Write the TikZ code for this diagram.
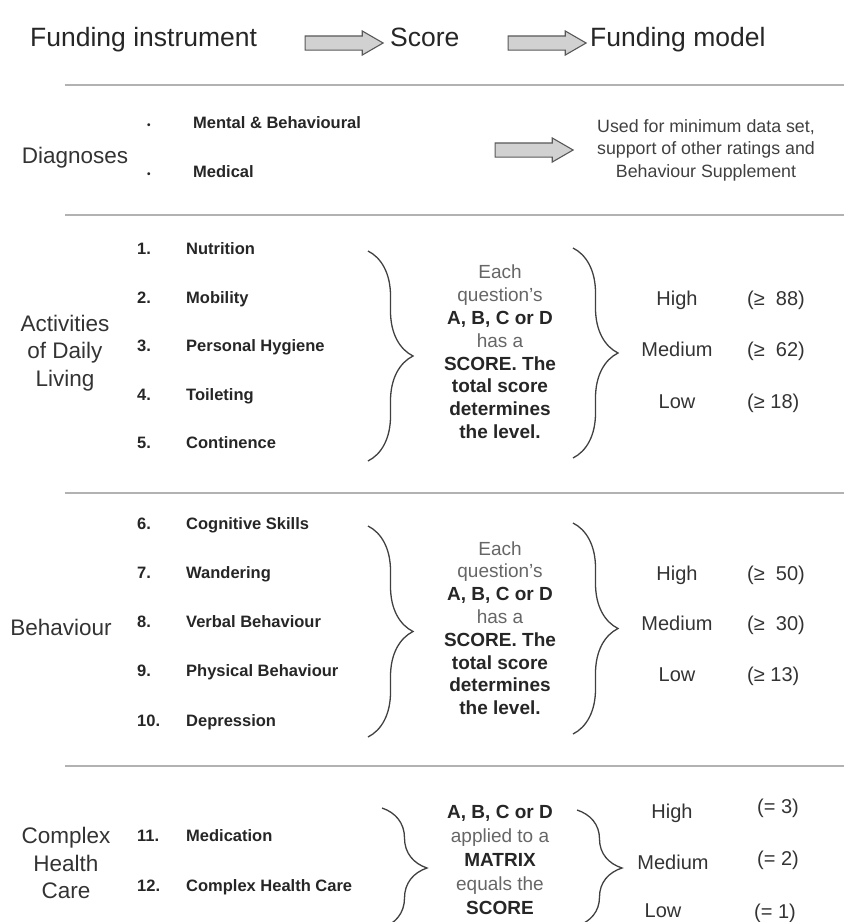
\documentclass[tikz,border=0pt]{standalone}
\usepackage{fontspec}
\setmainfont{Liberation Sans}
\usetikzlibrary{shapes.arrows,decorations.pathreplacing}
\tikzset{
  hdr/.style={font=\fontsize{26.5}{30}\selectfont, text=black!85, anchor=west, inner sep=0pt, text height=0.72em, text depth=0pt},
  sect/.style={font=\fontsize{22.5}{27.5}\selectfont, text=black!80, align=center, inner sep=0pt},
  itm/.style={font=\bfseries\fontsize{16.5}{18}\selectfont, text=black!85, anchor=west, inner sep=0pt, text height=0.72em, text depth=0pt},
  lvl/.style={font=\fontsize{20}{24}\selectfont, text=black!80, inner sep=0pt, text height=0.72em, text depth=0pt},
  val/.style={lvl, anchor=west},
  note/.style={font=\fontsize{19}{22.8}\selectfont, text=black!60, align=center, inner sep=0pt},
  usenote/.style={font=\fontsize{17.8}{22.5}\selectfont, text=black!75, align=center, inner sep=0pt},
  sep/.style={draw=black!30, line width=2pt},
  garrow/.style={single arrow, draw=black!65, fill=black!18, line width=1.1pt, inner sep=6.5pt,
    minimum height=78pt, single arrow head extend=5pt, single arrow tip angle=60},
  curly/.style={decorate, decoration={brace, amplitude=45pt}, draw=black!75, line width=1.3pt}
}
\newcommand{\num}[1]{\makebox[49pt][l]{#1}}
\newcommand{\hi}[1]{\textbf{\color{black!85}#1}}

\begin{document}
\begin{tikzpicture}[x=1pt,y=-1pt]
  \useasboundingbox (0,0) rectangle (844,922);
  % header
  \node[hdr] (instr) at (30,43) {Funding instrument};
  \node[garrow] (ar1) at (338,43) {};
  \node[hdr] (score) at (390,43) {Score};
  \node[garrow] (ar2) at (541,43) {};
  \node[hdr] (model) at (590,43) {Funding model};

  \draw[sep] (65,85) -- (844,85);
  \draw[sep] (65,215) -- (844,215);
  \draw[sep] (65,493) -- (844,493);
  \draw[sep] (65,766) -- (844,766);

  % diagnoses
  \node[sect] (diag) at (75,158) {Diagnoses};
  \node[itm] (mental) at (147,125) {\makebox[46pt][l]{\fontsize{10}{10}\selectfont\textbullet}Mental \& Behavioural};
  \node[itm] (medical) at (147,174) {\makebox[46pt][l]{\fontsize{10}{10}\selectfont\textbullet}Medical};
  \node[garrow] (ar3) at (528,150) {};
  \node[usenote] (used) at (706,150) {Used for minimum data set,\\support of other ratings and\\Behaviour Supplement};

  % activities of daily living
  \node[sect] (adl) at (65,353) {Activities\\of Daily\\Living};
  \node[itm] (adl1) at (137,251) {\num{1.}Nutrition};
  \node[itm] (adl2) at (137,299.5) {\num{2.}Mobility};
  \node[itm] (adl3) at (137,348) {\num{3.}Personal Hygiene};
  \node[itm] (adl4) at (137,396.5) {\num{4.}Toileting};
  \node[itm] (adl5) at (137,445) {\num{5.}Continence};
  \draw[curly] (368,251) -- (368,461);
  \node[note] (adlsc) at (500,352) {Each\\question's\\\hi{A, B, C or D}\\has a\\\hi{SCORE. The}\\\hi{total score}\\\hi{determines}\\\hi{the level.}};
  \draw[curly] (573,248) -- (573,458);
  \node[lvl] (adlh) at (677,302) {High};
  \node[lvl] (adlm) at (677,353) {Medium};
  \node[lvl] (adll) at (677,405) {Low};
  \node[val] (adlhv) at (747,302) {(≥~~88)};
  \node[val] (adlmv) at (747,353) {(≥~~62)};
  \node[val] (adllv) at (747,405) {(≥ 18)};

  % behaviour
  \node[sect] (beh) at (61,627) {Behaviour};
  \node[itm] (beh6) at (137,526) {\num{6.}Cognitive Skills};
  \node[itm] (beh7) at (137,575) {\num{7.}Wandering};
  \node[itm] (beh8) at (137,624) {\num{8.}Verbal Behaviour};
  \node[itm] (beh9) at (137,673) {\num{9.}Physical Behaviour};
  \node[itm] (beh10) at (137,723) {\num{10.}Depression};
  \draw[curly] (368,526) -- (368,737);
  \node[note] (behsc) at (500,628) {Each\\question's\\\hi{A, B, C or D}\\has a\\\hi{SCORE. The}\\\hi{total score}\\\hi{determines}\\\hi{the level.}};
  \draw[curly] (573,523) -- (573,734);
  \node[lvl] (behh) at (677,577) {High};
  \node[lvl] (behm) at (677,627) {Medium};
  \node[lvl] (behl) at (677,678) {Low};
  \node[val] (behhv) at (747,577) {(≥~~50)};
  \node[val] (behmv) at (747,627) {(≥~~30)};
  \node[val] (behlv) at (747,678) {(≥ 13)};

  % complex health care
  \node[sect] (chc) at (66,863) {Complex\\Health\\Care};
  \node[itm] (chc11) at (137,838) {\num{11.}Medication};
  \node[itm] (chc12) at (137,888) {\num{12.}Complex Health Care};
  \draw[curly] (382,808) -- (382,928);
  \node[note, font=\fontsize{19}{24}\selectfont] (chcsc) at (500,860) {\hi{A, B, C or D}\\applied to a\\\hi{MATRIX}\\equals the\\\hi{SCORE}};
  \draw[curly] (577,810) -- (577,926);
  \node[lvl] (chch) at (672,815) {High};
  \node[lvl] (chcm) at (673,866) {Medium};
  \node[lvl] (chcl) at (663,914) {Low};
  \node[lvl] (chchv) at (778,810) {(= 3)};
  \node[lvl] (chcmv) at (778,862) {(= 2)};
  \node[lvl] (chclv) at (775,915) {(= 1)};
\end{tikzpicture}
\end{document}
